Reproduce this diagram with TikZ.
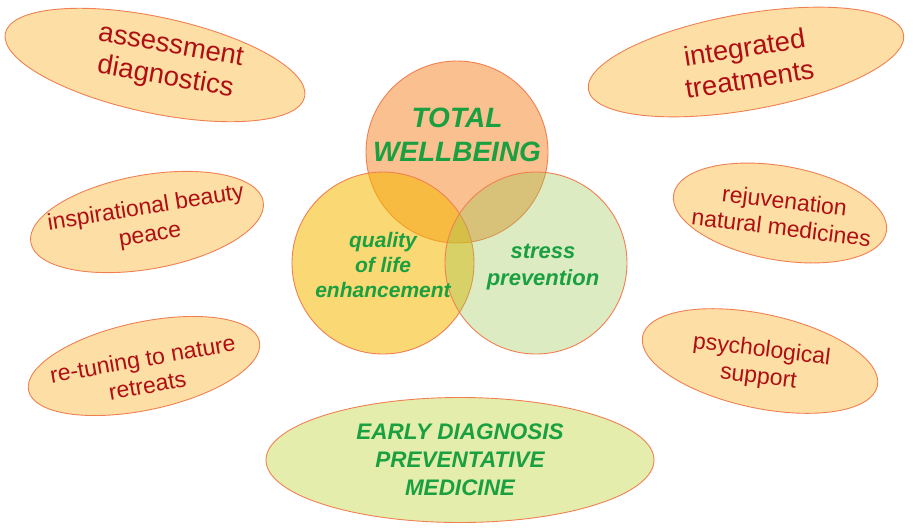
\documentclass[tikz,border=0pt]{standalone}
\usepackage{fontspec}
\setmainfont{Liberation Sans}
\usetikzlibrary{shapes.geometric, positioning}
\definecolor{wellgreen}{RGB}{26,160,64}
\definecolor{darkred}{RGB}{175,15,20}
\definecolor{peach}{RGB}{253,223,165}
\definecolor{rim}{RGB}{240,128,82}
\definecolor{paleleaf}{RGB}{228,237,172}
\definecolor{topfill}{RGB}{247,150,70}
\definecolor{leftfill}{RGB}{245,184,0}
\definecolor{rightfill}{RGB}{155,198,80}

\begin{document}
\begin{tikzpicture}[
    x=1pt, y=-1pt,
    bubble/.style={ellipse, draw=rim, fill=peach, line width=0.9pt, inner sep=0pt},
    red label/.style={text=darkred, align=center, font=\fontsize{23}{27}\selectfont},
    big label/.style={red label, font=\fontsize{27.5}{32}\selectfont},
    venn/.style={circle, draw=rim, line width=0.9pt, minimum size=182pt, inner sep=0pt},
    green label/.style={text=wellgreen, align=center, font=\bfseries\itshape\fontsize{22}{27}\selectfont}
  ]
  \useasboundingbox (0,0) rectangle (913,531);

  % Outer bubbles
  \node[bubble, minimum width=306pt, minimum height=96pt, rotate=-12] (assess) at (155,65) {};
  \node[bubble, minimum width=320pt, minimum height=96pt, rotate=10] (integr) at (746,62) {};
  \node[bubble, minimum width=236pt, minimum height=94pt, rotate=10] (inspire) at (147,222) {};
  \node[bubble, minimum width=216pt, minimum height=94pt, rotate=-10] (rejuv) at (780,213) {};
  \node[bubble, minimum width=236pt, minimum height=88pt, rotate=12] (retune) at (144,366) {};
  \node[bubble, minimum width=240pt, minimum height=94pt, rotate=-12] (psych) at (760,361) {};
  \node[bubble, fill=paleleaf, minimum width=388pt, minimum height=125pt] (early) at (460,460) {};

  % Venn circles
  \node[venn, fill=topfill, fill opacity=0.6] (total) at (457,152) {};
  \node[venn, fill=leftfill, fill opacity=0.55] (quality) at (383,263) {};
  \node[venn, fill=rightfill, fill opacity=0.35] (stress) at (536,263) {};

  % Labels
  \node[big label, rotate=-10] (assess text) at (168,63) {assessment\\diagnostics};
  \node[big label, rotate=9] (integr text) at (747,63) {integrated\\treatments};
  \node[red label, rotate=9] (inspire text) at (148,222) {inspirational beauty\\peace};
  \node[red label, rotate=-7] (rejuv text) at (783,214) {rejuvenation\\natural medicines};
  \node[red label, rotate=10] (retune text) at (145,372) {re-tuning to nature\\retreats};
  \node[red label, rotate=-7] (psych text) at (760,364) {psychological\\support};
  \node[green label, font=\bfseries\itshape\fontsize{28}{34}\selectfont] (total text) at (457,135) {TOTAL\\WELLBEING};
  \node[green label, font=\bfseries\itshape\fontsize{21}{25}\selectfont] (quality text) at (383,265) {quality\\of life\\enhancement};
  \node[green label] (stress text) at (543,267) {stress\\prevention};
  \node[green label, font=\bfseries\itshape\fontsize{22.5}{28}\selectfont] (early text) at (460,460) {EARLY DIAGNOSIS\\PREVENTATIVE\\MEDICINE};
\end{tikzpicture}
\end{document}
